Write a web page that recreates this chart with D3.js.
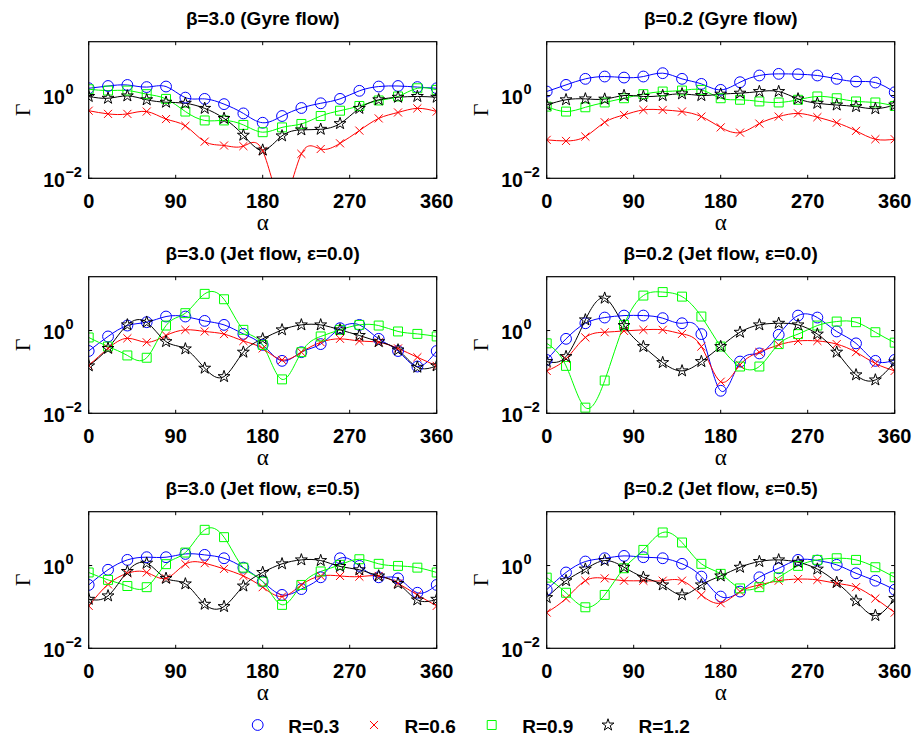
<!DOCTYPE html>
<html>
<head>
<meta charset="utf-8">
<script src="https://cdn.jsdelivr.net/npm/d3@7"></script>
<style>
  body { margin: 0; background: #fff; }
  svg text { font-family: "Liberation Sans", Arial, sans-serif; }
</style>
</head>
<body>
<div id="chart"></div>
<script>
// Angle alpha (degrees) at which every series was sampled
const alpha = [0, 20, 40, 60, 80, 100, 120, 140, 160, 180, 200, 220, 240, 260, 280, 300, 320, 340, 360];
const xTicks = [0, 90, 180, 270, 360];
const yTicks = [0.01, 1];
const yTickExp = ["\u22122", "0"];

const seriesNames = ["R=0.3", "R=0.6", "R=0.9", "R=1.2"];
const seriesColors = ["#0000ff", "#ff0000", "#00ff00", "#000000"];

const panelTitles = [
    "\u03b2=3.0 (Gyre flow)", "\u03b2=0.2 (Gyre flow)",
    "\u03b2=3.0 (Jet flow, \u03b5=0.0)", "\u03b2=0.2 (Jet flow, \u03b5=0.0)",
    "\u03b2=3.0 (Jet flow, \u03b5=0.5)", "\u03b2=0.2 (Jet flow, \u03b5=0.5)"
];

// Gyre flow, beta = 3.0
const g30_r03 = [1.5, 1.7, 1.8, 1.6, 1.65, 0.89, 0.83, 0.62, 0.37, 0.22, 0.32, 0.5, 0.65, 0.83, 1.3, 1.65, 1.7, 1.6, 1.5];
const g30_r06 = [0.43, 0.36, 0.36, 0.41, 0.27, 0.185, 0.077, 0.062, 0.06, 0.046, 0.003, 0.039, 0.051, 0.07, 0.142, 0.28, 0.39, 0.49, 0.41];
const g30_r09 = [1.42, 1.32, 1.32, 1.08, 0.83, 0.41, 0.25, 0.25, 0.195, 0.13, 0.17, 0.206, 0.32, 0.43, 0.56, 0.76, 0.95, 1.5, 1.37];
const g30_r12 = [0.95, 0.86, 0.98, 0.79, 0.69, 0.65, 0.49, 0.28, 0.11, 0.048, 0.106, 0.148, 0.153, 0.21, 0.49, 0.79, 0.91, 0.95, 0.91];

// Gyre flow, beta = 0.2
const g02_r03 = [1.25, 1.81, 2.53, 2.88, 2.72, 2.88, 3.47, 2.53, 1.91, 1.37, 2.1, 3.05, 3.34, 3.28, 3.05, 2.53, 2.18, 2.06, 1.2];
const g02_r06 = [0.085, 0.08, 0.102, 0.226, 0.34, 0.45, 0.45, 0.41, 0.31, 0.17, 0.127, 0.21, 0.31, 0.37, 0.3, 0.22, 0.14, 0.088, 0.088];
const g02_r09 = [0.54, 0.41, 0.52, 0.68, 0.86, 1.08, 1.25, 1.32, 1.37, 0.86, 0.79, 0.72, 0.68, 0.79, 0.95, 0.86, 0.72, 0.68, 0.56];
const g02_r12 = [0.59, 0.79, 0.83, 0.82, 1.0, 0.95, 1.0, 1.1, 1.0, 1.08, 1.14, 1.25, 1.25, 0.83, 0.65, 0.59, 0.54, 0.48, 0.59];

// Jet flow, beta = 3.0, eps = 0.0
const j30e0_r03 = [0.32, 0.72, 1.32, 1.59, 2.18, 2.18, 1.71, 1.37, 0.83, 0.45, 0.185, 0.3, 0.47, 1.14, 1.37, 0.63, 0.32, 0.135, 0.32];
const j30e0_r06 = [0.142, 0.37, 0.65, 0.52, 0.76, 1.04, 0.95, 0.82, 0.56, 0.37, 0.195, 0.3, 0.52, 0.63, 0.56, 0.52, 0.37, 0.226, 0.14];
const j30e0_r09 = [0.68, 0.41, 0.25, 0.22, 1.32, 2.63, 7.7, 5.7, 1.04, 0.45, 0.066, 0.3, 0.72, 1.04, 1.37, 1.32, 0.95, 0.83, 0.72];
const j30e0_r12 = [0.14, 0.37, 1.37, 1.59, 0.54, 0.36, 0.123, 0.077, 0.3, 0.63, 1.04, 1.37, 1.37, 1.04, 0.76, 0.54, 0.34, 0.13, 0.14];

// Jet flow, beta = 0.2, eps = 0.0
const j02e0_r03 = [0.195, 0.63, 1.5, 2.06, 2.3, 2.3, 1.99, 1.5, 0.82, 0.035, 0.178, 0.28, 0.79, 2.3, 2.06, 0.95, 0.49, 0.185, 0.195];
const j02e0_r06 = [0.106, 0.206, 0.68, 0.91, 0.98, 1.04, 1.04, 0.83, 0.41, 0.058, 0.148, 0.3, 0.45, 0.56, 0.56, 0.47, 0.3, 0.16, 0.106];
const j02e0_r09 = [0.49, 0.14, 0.0137, 0.062, 1.37, 7.0, 8.5, 6.6, 2.18, 0.41, 0.135, 0.135, 0.47, 0.82, 1.32, 1.65, 1.59, 0.91, 0.51];
const j02e0_r12 = [0.178, 0.235, 1.81, 6.05, 1.32, 0.41, 0.168, 0.106, 0.178, 0.41, 0.91, 1.37, 1.5, 1.37, 0.82, 0.3, 0.085, 0.064, 0.175];

// Jet flow, beta = 3.0, eps = 0.5
const j30e5_r03 = [0.34, 0.79, 1.37, 1.59, 1.59, 1.91, 1.81, 1.5, 0.89, 0.41, 0.195, 0.27, 0.52, 1.5, 0.98, 0.52, 0.49, 0.22, 0.34];
const j30e5_r06 = [0.106, 0.35, 0.65, 0.68, 0.49, 1.08, 1.14, 0.83, 0.56, 0.3, 0.178, 0.34, 0.56, 0.56, 0.54, 0.56, 0.37, 0.195, 0.106];
const j30e5_r09 = [0.68, 0.45, 0.32, 0.3, 1.08, 2.06, 7.3, 4.85, 0.89, 0.41, 0.112, 0.34, 0.72, 1.04, 1.42, 1.1, 0.98, 0.89, 0.68];
const j30e5_r12 = [0.153, 0.185, 0.72, 1.14, 0.49, 0.36, 0.116, 0.102, 0.32, 0.68, 1.1, 1.37, 1.32, 0.95, 0.79, 0.56, 0.37, 0.148, 0.153];

// Jet flow, beta = 0.2, eps = 0.5
const j02e5_r03 = [0.26, 0.68, 1.25, 1.5, 1.71, 1.59, 1.5, 1.1, 0.54, 0.178, 0.235, 0.52, 0.86, 1.37, 1.32, 1.04, 0.65, 0.43, 0.26];
const j02e5_r06 = [0.073, 0.16, 0.43, 0.49, 0.43, 0.43, 0.43, 0.43, 0.195, 0.123, 0.235, 0.34, 0.43, 0.47, 0.45, 0.37, 0.3, 0.16, 0.073];
const j02e5_r09 = [0.51, 0.22, 0.098, 0.195, 0.86, 2.39, 6.3, 3.6, 1.1, 0.63, 0.28, 0.3, 0.52, 0.98, 1.37, 1.5, 1.37, 0.91, 0.52];
const j02e5_r12 = [0.168, 0.43, 0.82, 1.32, 0.91, 0.52, 0.34, 0.195, 0.34, 0.56, 0.91, 1.25, 1.37, 1.2, 0.82, 0.39, 0.14, 0.062, 0.16];

const panelData = [
    [g30_r03, g30_r06, g30_r09, g30_r12],
    [g02_r03, g02_r06, g02_r09, g02_r12],
    [j30e0_r03, j30e0_r06, j30e0_r09, j30e0_r12],
    [j02e0_r03, j02e0_r06, j02e0_r09, j02e0_r12],
    [j30e5_r03, j30e5_r06, j30e5_r09, j30e5_r12],
    [j02e5_r03, j02e5_r06, j02e5_r09, j02e5_r12]
];

// Figure layout
const W = 914, H = 735;
const colLeft = [88.7, 546.7];
const rowTop = [41.7, 276.7, 511.7];
const pw = 348, ph = 136.6;

const symbolTimes = d3.symbolTimes || d3.symbolX;
const markers = [
    { type: d3.symbolCircle, size: 92 },
    { type: symbolTimes, size: 44 },
    { type: d3.symbolSquare, size: 80 },
    { type: d3.symbolStar, size: 44 }
];

const svg = d3.select("#chart")
    .append("svg")
    .attr("width", W)
    .attr("height", H);

const x = d3.scaleLinear().domain([0, 360]).range([0, pw]);
const y = d3.scaleLog().domain([0.01, 20]).range([ph, 0]);

const line = d3.line()
    .x((d, i) => x(alpha[i]))
    .y(d => y(d))
    .curve(d3.curveNatural);

panelData.forEach(function(series, p) {
    const col = p % 2, row = Math.floor(p / 2);
    const g = svg.append("g")
        .attr("transform", "translate(" + colLeft[col] + "," + rowTop[row] + ")");

    // clip so lines running off the axis are cut at the box
    g.append("clipPath")
        .attr("id", "clip" + p)
        .append("rect")
        .attr("width", pw)
        .attr("height", ph);

    const plot = g.append("g").attr("clip-path", "url(#clip" + p + ")");

    series.forEach(function(vals, s) {
        plot.append("path")
            .datum(vals)
            .attr("fill", "none")
            .attr("stroke", seriesColors[s])
            .attr("stroke-width", 1)
            .attr("d", line);
    });

    series.forEach(function(vals, s) {
        plot.selectAll(".m" + s)
            .data(vals)
            .join("path")
            .attr("class", "m" + s)
            .attr("transform", (d, i) => "translate(" + x(alpha[i]) + "," + y(d) + ")")
            .attr("d", d3.symbol().type(markers[s].type).size(markers[s].size))
            .attr("fill", "none")
            .attr("stroke", seriesColors[s])
            .attr("stroke-width", 1);
    });

    // box
    g.append("rect")
        .attr("width", pw)
        .attr("height", ph)
        .attr("fill", "none")
        .attr("stroke", "#000")
        .attr("stroke-width", 1.2);

    // x ticks (inside, bottom and top) and labels
    xTicks.forEach(function(t) {
        g.append("line").attr("x1", x(t)).attr("x2", x(t)).attr("y1", ph).attr("y2", ph - 3.5).attr("stroke", "#000");
        g.append("line").attr("x1", x(t)).attr("x2", x(t)).attr("y1", 0).attr("y2", 3.5).attr("stroke", "#000");
        g.append("text")
            .attr("x", x(t))
            .attr("y", ph + 29.7)
            .attr("text-anchor", "middle")
            .attr("font-size", 20)
            .attr("font-weight", "bold")
            .text(t);
    });

    // y ticks and 10^n labels (the "10" parts line up on the left)
    yTicks.forEach(function(t, k) {
        g.append("line").attr("x1", 0).attr("x2", 3.5).attr("y1", y(t)).attr("y2", y(t)).attr("stroke", "#000");
        g.append("line").attr("x1", pw).attr("x2", pw - 3.5).attr("y1", y(t)).attr("y2", y(t)).attr("stroke", "#000");
        const lab = g.append("text")
            .attr("x", -45.5)
            .attr("y", y(t) + 8.5)
            .attr("text-anchor", "start")
            .attr("font-weight", "bold");
        lab.append("tspan").attr("font-size", 19.5).text("10");
        lab.append("tspan").attr("font-size", 14.5).attr("dx", 0.5).attr("dy", -10).text(yTickExp[k]);
    });

    // title and axis labels
    g.append("text")
        .attr("x", pw / 2)
        .attr("y", -17)
        .attr("text-anchor", "middle")
        .attr("font-size", 19)
        .attr("font-weight", "bold")
        .text(panelTitles[p]);

    g.append("text")
        .attr("x", pw / 2)
        .attr("y", ph + 52)
        .attr("text-anchor", "middle")
        .attr("font-size", 23)
        .style("font-family", "'Liberation Serif', serif")
        .text("\u03b1");

    g.append("text")
        .attr("transform", "translate(-59," + (ph / 2) + ") rotate(-90)")
        .attr("text-anchor", "middle")
        .attr("font-size", 22)
        .style("font-family", "'Liberation Serif', serif")
        .text("\u0393");
});

// Legend along the bottom
const legendX = [257.7, 374, 491.7, 608];
const legend = svg.append("g");
seriesNames.forEach(function(name, s) {
    legend.append("path")
        .attr("transform", "translate(" + legendX[s] + ",725)")
        .attr("d", d3.symbol().type(markers[s].type).size(markers[s].size))
        .attr("fill", "none")
        .attr("stroke", seriesColors[s])
        .attr("stroke-width", 1);
    legend.append("text")
        .attr("x", legendX[s] + 30.5)
        .attr("y", 732.5)
        .attr("font-size", 19)
        .attr("font-weight", "bold")
        .text(name);
});
</script>
</body>
</html>
